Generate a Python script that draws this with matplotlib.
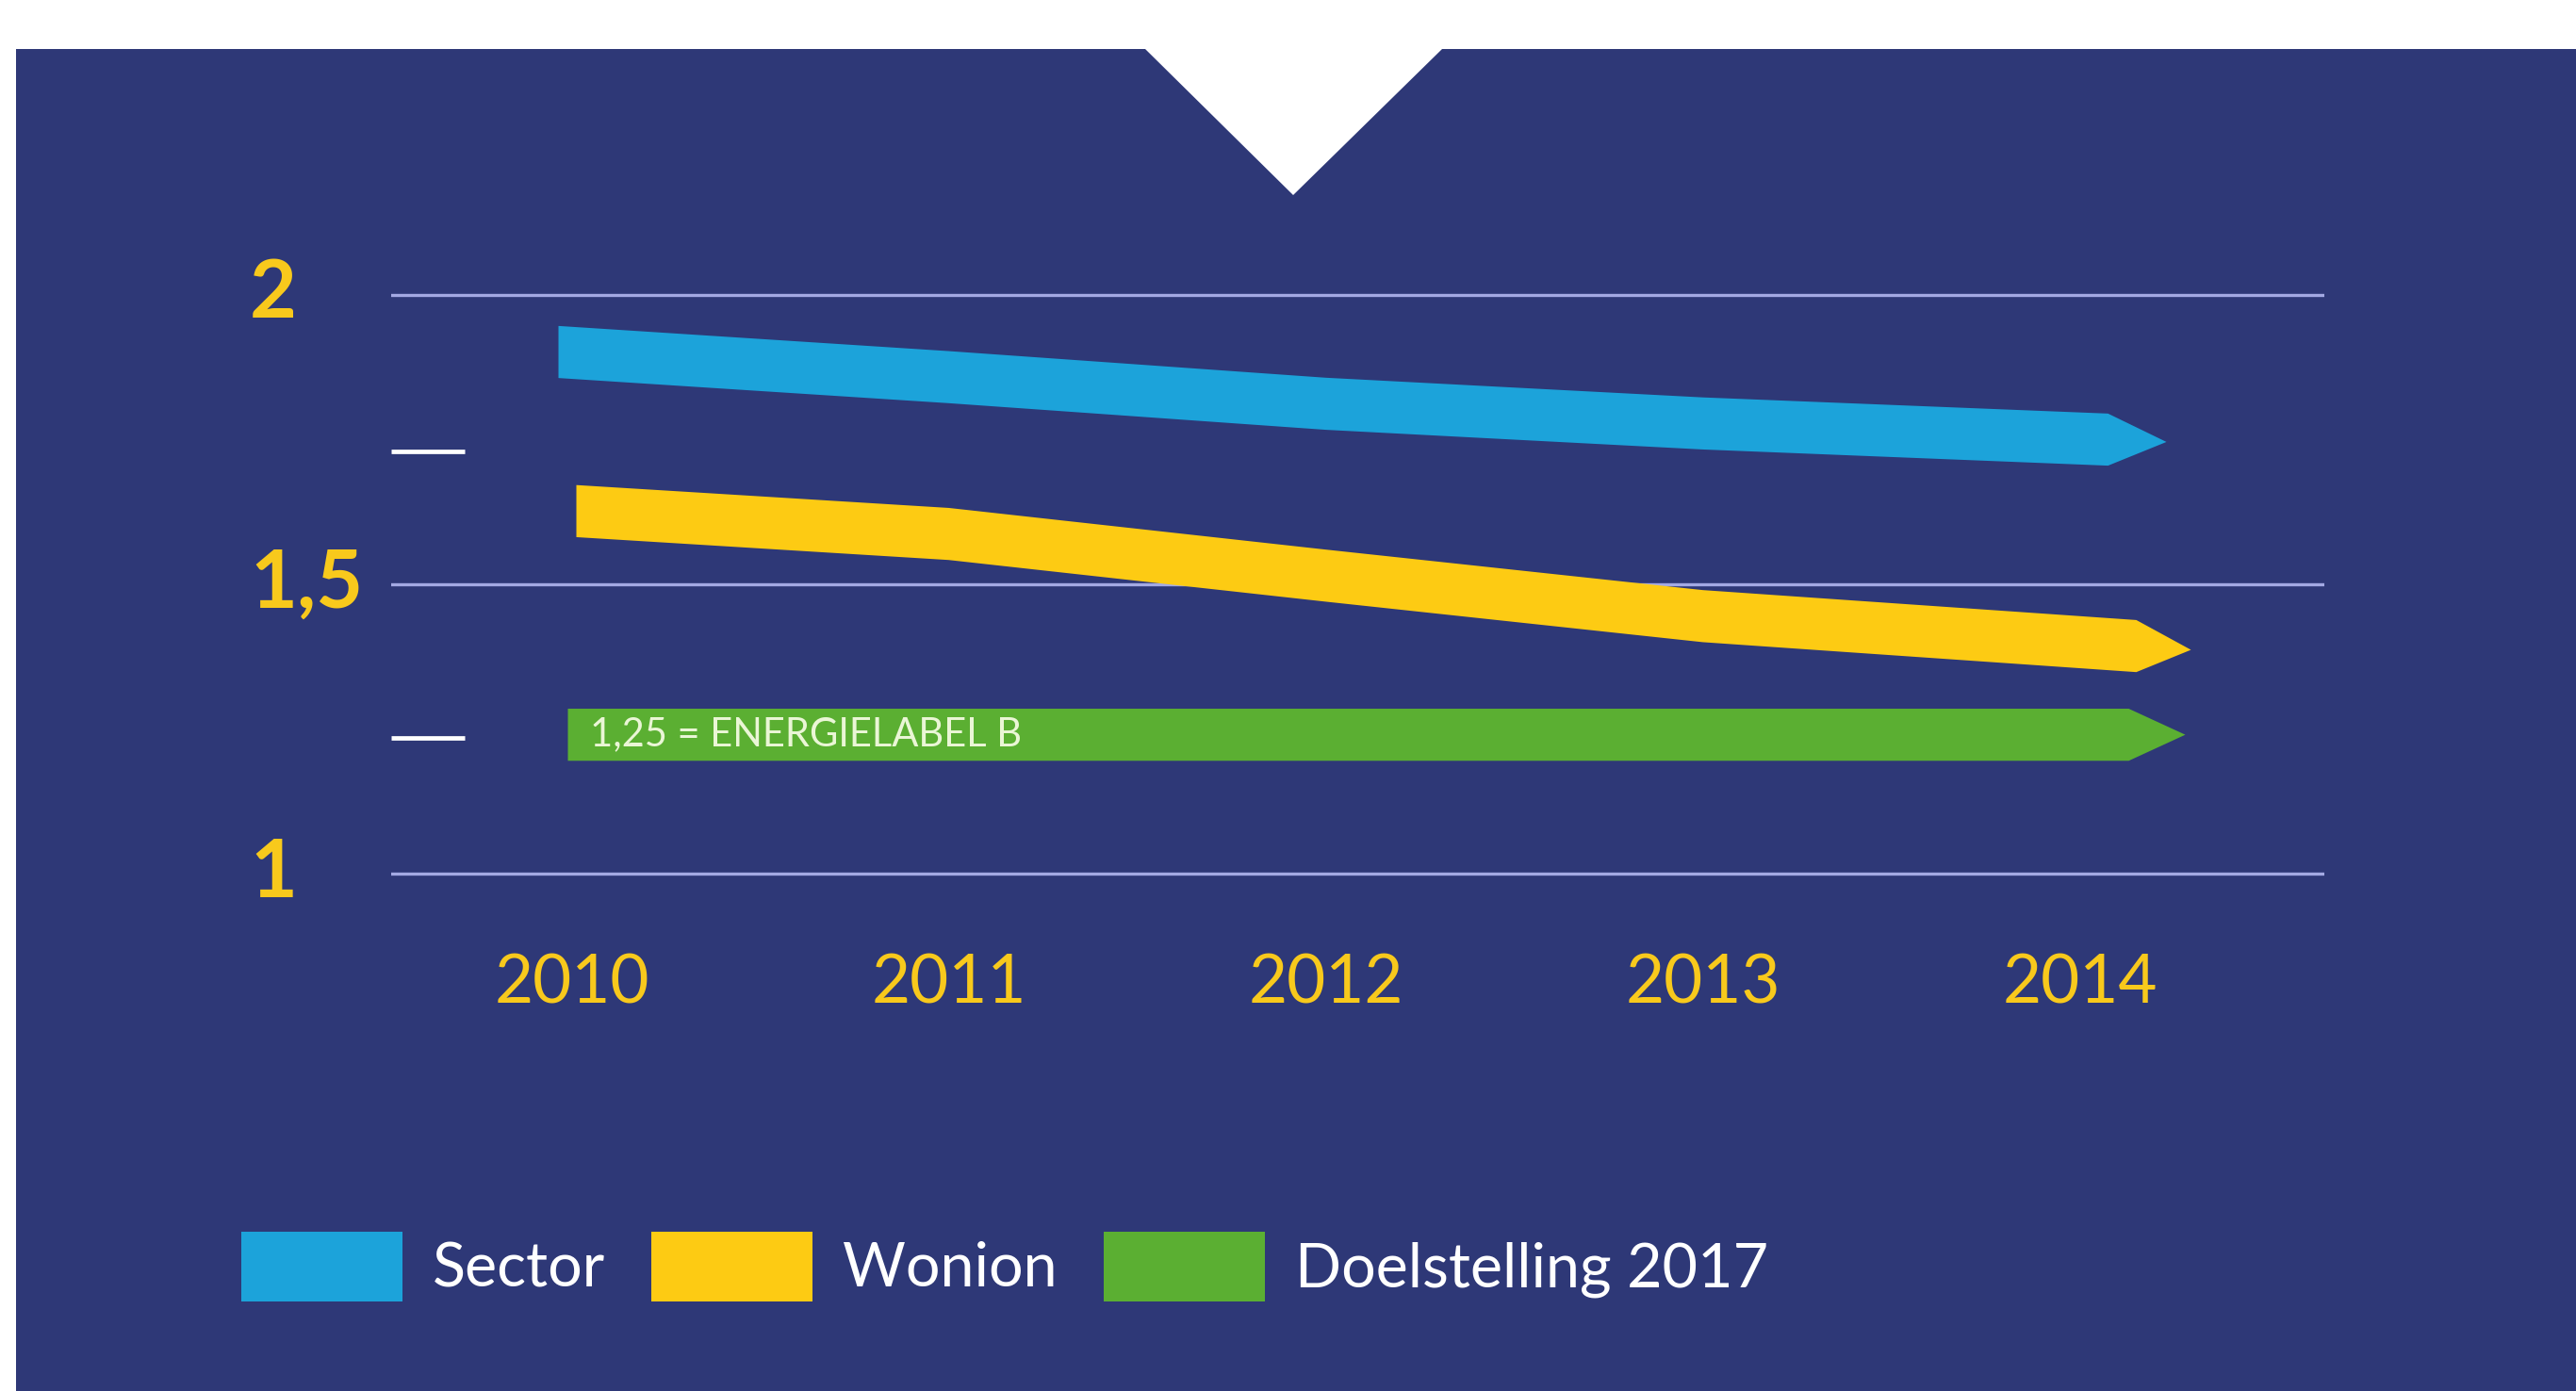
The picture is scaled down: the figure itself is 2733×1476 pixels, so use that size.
import numpy as np
import matplotlib
matplotlib.use("Agg")
import matplotlib.pyplot as plt
from matplotlib.patches import Polygon, Rectangle, Patch

plt.rcParams["font.family"] = ["Lato", "DejaVu Sans"]

# data
years = [2010, 2011, 2012, 2013, 2014]
sector = [1.900, 1.858, 1.812, 1.778, 1.752]
wonion = [1.627, 1.587, 1.515, 1.445, 1.400]
doelstelling = [1.24, 1.24, 1.24, 1.24, 1.24]
y_ticks = [1, 1.5, 2]
y_tick_labels = ["1", "1,5", "2"]
y_marks = [1.235, 1.73]
series_names = ["Sector", "Wonion", "Doelstelling 2017"]
target_note = "1,25 = ENERGIELABEL B"

NAVY = "#2E3877"
BLUE = "#1CA3DA"
YELLOW = "#FDCB13"
GREEN = "#5BAF32"
GRID = "#A3A9E3"
LABEL = "#F8C91C"

W, H = 2733, 1476
fig = plt.figure(figsize=(W / 100, H / 100), dpi=100, facecolor="white")

# navy panel with white notch on top (kept behind the axes)
fig.patches.append(Rectangle((17 / W, 0), 1 - 17 / W, 1 - 52 / H,
                             transform=fig.transFigure, fc=NAVY, ec="none",
                             zorder=-10))
fig.patches.append(Polygon([[1215 / W, 1.0], [1530 / W, 1.0],
                            [1530 / W, 1 - 52 / H], [1372 / W, 1 - 207 / H],
                            [1215 / W, 1 - 52 / H]],
                           transform=fig.transFigure, fc="white", ec="none",
                           zorder=-9))

ax = fig.add_axes([415 / W, 0.33035, 2051 / W, 0.49919])
ax.set_facecolor("none")
ax.set_xlim(2009.52125, 2014.64875)
ax.set_ylim(0.9, 2.1)
for s in ax.spines.values():
    s.set_visible(False)

ax.set_yticks(y_ticks, y_tick_labels)
ax.set_yticks(y_marks, minor=True)
ax.grid(axis="y", which="major", color=GRID, lw=2.4)
ax.tick_params(axis="y", which="major", length=0, pad=108, labelcolor=LABEL,
               labelsize=62)
ax.tick_params(axis="y", which="minor", direction="in", length=56, width=3.4,
               color="white")
for t in ax.get_yticklabels():
    t.set_horizontalalignment("left")
    t.set_verticalalignment("center")
    t.set_fontweight("bold")

# x labels hang below the y=1 line (axes bottom is at 0.9)
ax.set_xticks(years, [str(y) for y in years])
ax.tick_params(axis="x", length=0, pad=(1044 - 988) * 0.72,
               labelcolor=LABEL, labelsize=51)
for t in ax.get_xticklabels():
    t.set_verticalalignment("center")


def arrow_band(xs, ys, color, start, body_end, tip, thick=0.09):
    xs = np.asarray(xs, float)
    ys = np.asarray(ys, float)
    s0 = (ys[1] - ys[0]) / (xs[1] - xs[0])
    s1 = (ys[-1] - ys[-2]) / (xs[-1] - xs[-2])
    cx = xs.copy()
    cy = ys.copy()
    cx[0] = xs[0] + start
    cy[0] = ys[0] + s0 * start
    cx = np.r_[cx, xs[-1] + body_end]
    cy = np.r_[cy, ys[-1] + s1 * body_end]
    tip_pt = [[xs[-1] + tip, ys[-1] + s1 * tip]]
    top = np.c_[cx, cy + thick / 2]
    bot = np.c_[cx, cy - thick / 2][::-1]
    pts = np.vstack([top, tip_pt, bot])
    ax.add_patch(Polygon(pts, closed=True, fc=color, ec="none", zorder=3,
                         clip_on=False))


arrow_band(years, sector, BLUE, -0.035, 0.075, 0.23)
arrow_band(years, wonion, YELLOW, 0.0125, 0.15, 0.295)
arrow_band(years, doelstelling, GREEN, -0.01, 0.13, 0.28)

ax.text(years[0] + 0.049, doelstelling[0], target_note, ha="left",
        va="center", color="#EAF6D6", fontsize=30, zorder=4)

handles = [Patch(fc=c, ec="none", label=n)
           for c, n in zip([BLUE, YELLOW, GREEN], series_names)]
fs = 46.5
fpx = fs / 0.72
fig.legend(handles=handles, loc="center left",
           bbox_to_anchor=(256 / W, 1 - 1344 / H), ncol=3, frameon=False,
           fontsize=fs, labelcolor="white", handlelength=171 / fpx,
           handleheight=1.19 * 76 / fpx, handletextpad=32 / fpx,
           columnspacing=49 / fpx, borderpad=0, borderaxespad=0)

fig.savefig("out.png", dpi=100, facecolor="white")
